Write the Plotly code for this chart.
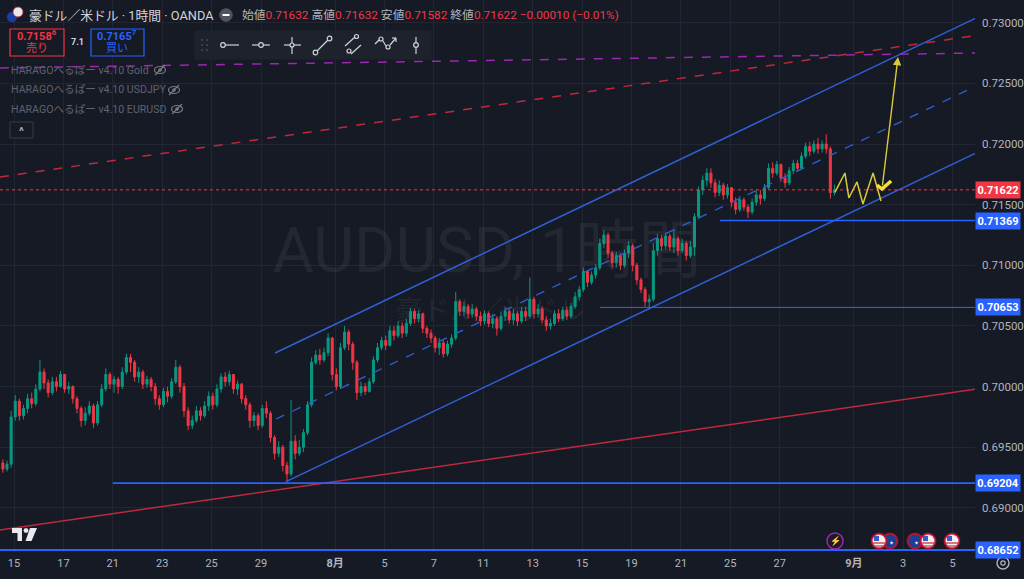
import plotly.graph_objects as go

# ---------------- data ----------------
# 4-hour bars (trading-day units on x; 0 = Jul 15)
BAR_START = -0.45
BAR_STEP = 1 / 6
first_open = 0.6937
close = [
0.6932,0.6936,0.6975,0.6988,0.6976,0.6982,0.6990,0.6986,0.6998,0.7012,
0.7003,0.6995,0.7004,0.7000,0.7010,0.6998,0.7000,0.6990,0.6982,0.6972,
0.6978,0.6984,0.6970,0.6985,0.6998,0.7010,0.7002,0.7006,0.7000,0.7012,
0.7024,0.7020,0.7008,0.7012,0.7002,0.7006,0.7000,0.6990,0.6985,0.6996,
0.6992,0.7004,0.7016,0.7000,0.6980,0.6968,0.6972,0.6980,0.6976,0.6984,
0.6992,0.6985,0.6998,0.7008,0.7004,0.7010,0.6998,0.7002,0.6990,0.6985,
0.6972,0.6976,0.6968,0.6982,0.6978,0.6958,0.6945,0.6950,0.6935,0.6928,
0.6955,0.6945,0.6950,0.6962,0.6985,0.7020,0.7026,0.7022,0.7028,0.7040,
0.7010,0.7000,0.7032,0.7045,0.7035,0.7020,0.6995,0.7000,0.6996,0.7004,
0.7022,0.7032,0.7038,0.7034,0.7046,0.7042,0.7050,0.7044,0.7052,0.7062,
0.7056,0.7060,0.7048,0.7044,0.7040,0.7032,0.7036,0.7027,0.7035,0.7040,
0.7070,0.7062,0.7066,0.7060,0.7064,0.7058,0.7054,0.7060,0.7052,0.7056,
0.7048,0.7058,0.7062,0.7055,0.7060,0.7054,0.7062,0.7058,0.7072,0.7060,
0.7064,0.7055,0.7050,0.7052,0.7060,0.7056,0.7063,0.7058,0.7066,0.7074,
0.7080,0.7095,0.7086,0.7092,0.7098,0.7118,0.7125,0.7110,0.7102,0.7108,
0.7100,0.7110,0.7116,0.7100,0.7088,0.7080,0.7070,0.7072,0.7112,0.7122,
0.7116,0.7124,0.7115,0.7122,0.7112,0.7118,0.7108,0.7115,0.7140,0.7162,
0.7170,0.7176,0.7168,0.7160,0.7166,0.7158,0.7164,0.7152,0.7146,0.7154,
0.7148,0.7144,0.7152,0.7158,0.7155,0.7164,0.7180,0.7176,0.7183,0.7172,
0.7168,0.7178,0.7184,0.7180,0.7190,0.7198,0.7194,0.7200,0.7196,0.7200,
0.7196,0.7160,0.71622]
high = [
0.6940,0.6939,0.6980,0.6993,0.6990,0.6985,0.6994,0.6995,0.7002,0.7022,
0.7015,0.7006,0.7008,0.7008,0.7013,0.7010,0.7004,0.7001,0.6992,0.6984,
0.6983,0.6988,0.6986,0.6988,0.7002,0.7015,0.7012,0.7009,0.7008,0.7016,
0.7027,0.7027,0.7022,0.7016,0.7014,0.7009,0.7008,0.7003,0.6993,0.6999,
0.7000,0.7007,0.7022,0.7018,0.7003,0.6983,0.6976,0.6984,0.6983,0.6988,
0.6996,0.6995,0.7002,0.7011,0.7012,0.7013,0.7010,0.7005,0.7003,0.6993,
0.6987,0.6979,0.6978,0.6985,0.6988,0.6980,0.6960,0.6955,0.6952,0.6938,
0.6989,0.6960,0.6956,0.6965,0.6988,0.7024,0.7030,0.7031,0.7032,0.7044,
0.7041,0.7015,0.7036,0.7050,0.7047,0.7037,0.7022,0.7004,0.7003,0.7007,
0.7025,0.7036,0.7041,0.7042,0.7050,0.7050,0.7054,0.7053,0.7056,0.7065,
0.7064,0.7063,0.7061,0.7050,0.7047,0.7042,0.7040,0.7038,0.7038,0.7043,
0.7078,0.7072,0.7070,0.7068,0.7068,0.7066,0.7062,0.7063,0.7062,0.7060,
0.7058,0.7062,0.7066,0.7064,0.7064,0.7062,0.7066,0.7066,0.7090,0.7074,
0.7068,0.7066,0.7058,0.7056,0.7063,0.7064,0.7066,0.7066,0.7069,0.7078,
0.7083,0.7098,0.7096,0.7095,0.7101,0.7122,0.7129,0.7127,0.7112,0.7111,
0.7110,0.7113,0.7120,0.7118,0.7102,0.7090,0.7082,0.7076,0.7118,0.7126,
0.7125,0.7127,0.7126,0.7130,0.7124,0.7122,0.7120,0.7120,0.7143,0.7165,
0.7174,0.7180,0.7180,0.7171,0.7170,0.7168,0.7167,0.7164,0.7156,0.7157,
0.7156,0.7150,0.7155,0.7162,0.7162,0.7167,0.7184,0.7185,0.7186,0.7184,
0.7176,0.7181,0.7187,0.7187,0.7193,0.7201,0.7202,0.7203,0.7205,0.7203,
0.7208,0.7198,0.71665]
low = [
0.6929,0.6930,0.6933,0.6972,0.6972,0.6973,0.6978,0.6982,0.6984,0.6996,
0.6998,0.6991,0.6993,0.6996,0.6999,0.6995,0.6994,0.6986,0.6978,0.6967,
0.6968,0.6976,0.6966,0.6968,0.6983,0.6996,0.6998,0.6995,0.6994,0.6998,
0.7010,0.7012,0.7004,0.7003,0.6998,0.6999,0.6996,0.6985,0.6981,0.6983,
0.6987,0.6990,0.7002,0.6995,0.6975,0.6964,0.6965,0.6970,0.6972,0.6974,
0.6980,0.6981,0.6983,0.6995,0.7000,0.7001,0.6994,0.6993,0.6986,0.6981,
0.6966,0.6967,0.6964,0.6966,0.6974,0.6954,0.6940,0.6942,0.6930,0.6921,
0.6926,0.6940,0.6943,0.6946,0.6960,0.6983,0.7018,0.7018,0.7020,0.7025,
0.7005,0.6997,0.6998,0.7030,0.7030,0.7014,0.6989,0.6992,0.6993,0.6995,
0.7002,0.7020,0.7030,0.7030,0.7033,0.7038,0.7040,0.7040,0.7041,0.7050,
0.7052,0.7053,0.7044,0.7040,0.7036,0.7028,0.7026,0.7024,0.7025,0.7032,
0.7038,0.7058,0.7058,0.7056,0.7057,0.7054,0.7050,0.7051,0.7049,0.7048,
0.7042,0.7046,0.7054,0.7052,0.7051,0.7050,0.7052,0.7054,0.7056,0.7056,
0.7057,0.7052,0.7046,0.7047,0.7050,0.7053,0.7054,0.7055,0.7056,0.7064,
0.7071,0.7078,0.7082,0.7084,0.7089,0.7096,0.7114,0.7106,0.7098,0.7098,
0.7096,0.7098,0.7106,0.7095,0.7084,0.7077,0.7066,0.7064,0.7070,0.7108,
0.7112,0.7113,0.7112,0.7110,0.7108,0.7110,0.7104,0.7106,0.7108,0.7138,
0.7158,0.7165,0.7164,0.7156,0.7157,0.7154,0.7155,0.7148,0.7142,0.7144,
0.7145,0.7139,0.7142,0.7149,0.7150,0.7153,0.7163,0.7172,0.7174,0.7169,
0.7164,0.7166,0.7175,0.7177,0.7179,0.7188,0.7190,0.7192,0.7192,0.7193,
0.7192,0.7155,0.71575]

# date axis (trading-day index -> label)
tick_days = [0, 2, 4, 6, 8, 10, 13, 15, 17, 19, 21, 23, 25, 27, 29, 31, 34, 36, 38]
tick_text = ["15", "17", "21", "23", "25", "29", "<b>8月</b>", "5", "7", "11", "13", "15",
             "19", "21", "25", "27", "<b>9月</b>", "3", "5"]
price_ticks = [0.690, 0.695, 0.700, 0.705, 0.710, 0.715, 0.720, 0.725, 0.730]

# drawings (x in trading days, y price)
upper_channel = ([10.57, 38.95], [0.70277, 0.73039])
mid_channel = ([10.61, 38.95], [0.69733, 0.72478])
lower_channel = ([11.01, 38.95], [0.69216, 0.71926])
red_trend = ([-0.57, 38.95], [0.68818, 0.69980])
red_dash_trend = ([-0.57, 38.80], [0.71728, 0.72890])
purple_dash = ([-0.57, 38.95], [0.72627, 0.72750])
h_levels = [(28.58, 0.71369, 1.6), (23.72, 0.70653, 1.0), (4.0, 0.69204, 1.6), (-0.57, 0.68652, 2.0)]
last_price = 0.71622
zig_x = [33.24, 33.64, 33.80, 34.13, 34.37, 34.78, 35.10]
zig_y = [0.71604, 0.71761, 0.71555, 0.71687, 0.71505, 0.71761, 0.71530]
arrow_from = (35.13, 0.71610)
arrow_to = (35.79, 0.72717)
check_x = [34.94, 35.14, 35.51]
check_y = [0.71662, 0.71629, 0.71695]

# ---------------- style / layout ----------------
BG = "#161a25"
GRID = "#222633"
UP = "#089981"
DN = "#f23645"
BLUE = "#2962ff"
CHAN = "#3060d8"
FONT = "Roboto, Noto Sans CJK JP, sans-serif"
W, H = 1024, 579
MR, MB = 49, 27
PW, PH = W - MR, H - MB
X_RANGE = [-0.567, 38.907]
Y_RANGE = [0.686364, 0.731871]


def px(x):
    return x / PW


def py(y):
    return (PH - y) / PH


opens = [first_open] + close[:-1]
hi = [max(h, o, c) for h, o, c in zip(high, opens, close)]
lo = [min(l, o, c) for l, o, c in zip(low, opens, close)]
bar_x = [BAR_START + i * BAR_STEP for i in range(len(close))]

fig = go.Figure()

# watermark
fig.add_trace(go.Scatter(x=[19.15], y=[0.71078], mode="text", text=["AUDUSD, 1時間"],
                         textfont=dict(size=63, color="rgba(120,123,134,0.14)", family=FONT),
                         hoverinfo="skip"))
fig.add_trace(go.Scatter(x=[19.27], y=[0.70608], mode="text", text=["豪ドル／米ドル"],
                         textfont=dict(size=27, color="rgba(120,123,134,0.14)", family=FONT),
                         hoverinfo="skip"))

fig.add_trace(go.Candlestick(
    x=bar_x, open=opens, high=hi, low=lo, close=close,
    increasing=dict(line=dict(color=UP, width=1), fillcolor=UP),
    decreasing=dict(line=dict(color=DN, width=1), fillcolor=DN),
    whiskerwidth=0, hoverinfo="skip"))


def line(xy, color, width=1.5, dash="solid"):
    fig.add_trace(go.Scatter(x=xy[0], y=xy[1], mode="lines",
                             line=dict(color=color, width=width, dash=dash), hoverinfo="skip"))


line(red_trend, "#c0283c", 1.5)
line(red_dash_trend, "#c0283c", 1.5, "dash")
line(purple_dash, "#9c27b0", 1.5, "dash")
line(upper_channel, CHAN, 1.5)
line(lower_channel, CHAN, 1.5)
line(mid_channel, CHAN, 1.3, "dash")
for x0, lvl, w in h_levels:
    line(([x0, X_RANGE[1]], [lvl, lvl]), BLUE, w)
line((X_RANGE, [last_price, last_price]), DN, 1, "dot")
line((zig_x, zig_y), "#d9c83a", 1.5)
line((check_x, check_y), "#f5e03a", 3.5)

shapes = []
ann = []

# yellow arrow
ann.append(dict(x=arrow_to[0], y=arrow_to[1], ax=arrow_from[0], ay=arrow_from[1],
                xref="x", yref="y", axref="x", ayref="y", showarrow=True, text=" ",
                arrowhead=2, arrowsize=1.2, arrowwidth=1.4, arrowcolor="#d9c83a",
                font=dict(size=8)))

# right-axis badges
badges = [(last_price, "0.71622", DN)] + [(lvl, f"{lvl:.5f}", BLUE) for _, lvl, _ in h_levels]
for yv, txt, col in badges:
    ann.append(dict(x=1.0, y=yv, xref="paper", yref="y", xanchor="left", yanchor="middle",
                    text=f"<b>{txt}</b>", showarrow=False, bgcolor=col, width=42, height=14,
                    borderpad=1, font=dict(color="#ffffff", size=11, family=FONT)))


def text(x, y, t, size=12, color="#d1d4dc", anchor="left"):
    ann.append(dict(x=px(x), y=py(y), xref="paper", yref="paper", xanchor=anchor,
                    yanchor="middle", text=t, showarrow=False,
                    font=dict(size=size, color=color, family=FONT)))


def circ(cx, cy, r, fill="rgba(0,0,0,0)", lc="#d1d4dc", lw=1.2):
    shapes.append(dict(type="circle", xref="paper", yref="paper",
                       x0=px(cx - r), x1=px(cx + r), y0=py(cy + r), y1=py(cy - r),
                       fillcolor=fill, line=dict(color=lc, width=lw)))


def seg(x0, y0, x1, y1, lc="#d1d4dc", lw=1.2):
    shapes.append(dict(type="line", xref="paper", yref="paper",
                       x0=px(x0), y0=py(y0), x1=px(x1), y1=py(y1), line=dict(color=lc, width=lw)))


def rect(x0, y0, x1, y1, fill, lc, lw=1):
    shapes.append(dict(type="rect", xref="paper", yref="paper",
                       x0=px(x0), y0=py(y1), x1=px(x1), y1=py(y0), fillcolor=fill,
                       line=dict(color=lc, width=lw)))


def path(pts, fill, lc="rgba(0,0,0,0)"):
    d = "M " + " L ".join(f"{px(a):.5f},{py(b):.5f}" for a, b in pts) + " Z"
    shapes.append(dict(type="path", xref="paper", yref="paper", path=d,
                       fillcolor=fill, line=dict(color=lc, width=0)))


# header
circ(12, 17, 5, "#1b3fa0", "#1b3fa0", 0.5)
circ(18, 12, 5, "#e8e8ee", "#c8283c", 0.8)
text(27, 15, "豪ドル／米ドル · 1時間 · OANDA", 12.8)
circ(226, 15, 6.5, "#50535e", "#50535e", 0.5)
seg(222.5, 15, 229.5, 15, "#ffffff", 2)
R = "#f23645"
ohlc = (f"始値<span style='color:{R}'>0.71632</span> 高値<span style='color:{R}'>0.71632</span> "
        f"安値<span style='color:{R}'>0.71582</span> 終値<span style='color:{R}'>0.71622</span> "
        f"<span style='color:{R}'>−0.00010 (−0.01%)</span>")
text(240, 15, ohlc, 11.8, "#b2b5be")

# sell / buy boxes
rect(10, 29, 64, 56, BG, DN, 1.2)
text(37, 36, "<b>0.7158<sup>6</sup></b>", 11, DN, "center")
text(37, 48, "売り", 11, DN, "center")
text(77, 42, "<b>7.1</b>", 9, "#d1d4dc", "center")
rect(91, 29, 144, 56, BG, BLUE, 1.2)
text(117, 36, "<b>0.7165<sup>7</sup></b>", 11, BLUE, "center")
text(117, 48, "買い", 11, BLUE, "center")

# drawing toolbar
rect(195, 31, 431, 59, "#1e222d", "#1e222d", 1)
for gx in (202, 207):
    for gy in (40, 45, 50):
        circ(gx, gy, 0.8, "#50535e", "#50535e", 0.3)
circ(223, 45, 2.3)
seg(225.5, 45, 239, 45)
seg(252, 45, 270, 45)
circ(261, 45, 2.3, "#1e222d")
seg(284, 45, 301, 45)
seg(292, 37, 292, 54)
circ(292, 45, 2, "#1e222d")
seg(317, 51, 328, 40)
circ(315.5, 52.5, 2.3)
circ(329.5, 38.5, 2.3)
seg(345, 46, 355, 37)
circ(356.5, 36.5, 2)
seg(351, 54, 361, 45)
circ(349, 51, 2)
seg(375, 44, 379, 40)
circ(381, 39, 2)
seg(383, 41, 386, 46)
circ(388, 47, 2)
seg(390, 45, 396, 38)
seg(392, 38, 396, 38)
seg(396, 38, 396, 42)
seg(416, 37, 416, 42.5)
seg(416, 47.5, 416, 54)
circ(416, 45, 2.3)

# indicator legend
for yy, nm, ex in [(70, "Gold", 160), (90, "USDJPY", 174), (109, "EURUSD", 177)]:
    text(9, yy, f"HARAGOへるぱー v4.10 {nm}", 10.6, "#5f626d")
    shapes.append(dict(type="circle", xref="paper", yref="paper", x0=px(ex - 5.5), x1=px(ex + 5.5),
                       y0=py(yy + 3.5), y1=py(yy - 3.5), line=dict(color="#787b86", width=1.2)))
    circ(ex, yy, 1.5, "#787b86", "#787b86", 0.5)
    seg(ex - 5, yy + 5, ex + 5, yy - 5, "#787b86", 1.2)
rect(10, 122, 33, 138, BG, "#363a45", 1)
text(21.5, 131, "<b>^</b>", 11, "#b2b5be", "center")

# TradingView logo
path([(12, 528), (22, 528), (22, 541), (17.5, 541), (17.5, 533), (12, 533)], "#e9e9ee")
circ(26, 530.5, 2.3, "#e9e9ee", "#e9e9ee", 0.3)
path([(30, 528), (37, 528), (31.5, 541), (25.5, 541)], "#e9e9ee")

# event icons on time scale
circ(835, 541, 8, "#1e1a2a", "#9c27b0", 1.5)
text(835, 541, "<b>⚡</b>", 9, "#b040c8", "center")
for cx, kind in [(890, "au"), (879, "us"), (915, "au"), (928, "us"), (952, "us")]:
    circ(cx, 541, 8, "#c8102e", "#c8102e", 0.5)
    if kind == "au":
        circ(cx, 541, 6.3, "#1c3f94", "#1c3f94", 0.3)
        text(cx + 1.5, 542, "✦", 6, "#ffffff", "center")
    else:
        circ(cx, 541, 6.3, "#eef0f4", "#eef0f4", 0.3)
        seg(cx - 6, 543, cx + 6, 543, "#d03040", 1.3)
        seg(cx - 5, 546, cx + 5, 546, "#d03040", 1.2)
        shapes.append(dict(type="rect", xref="paper", yref="paper", x0=px(cx - 5), x1=px(cx),
                           y0=py(541), y1=py(536), fillcolor="#3a5cc8", line=dict(width=0)))

# settings gear
circ(1003, 563, 6, "rgba(0,0,0,0)", "#b2b5be", 1.4)
circ(1003, 563, 2.2, "rgba(0,0,0,0)", "#b2b5be", 1.2)

fig.update_layout(
    width=W, height=H, margin=dict(l=0, r=MR, t=0, b=MB),
    paper_bgcolor=BG, plot_bgcolor=BG, showlegend=False, hovermode=False,
    font=dict(family=FONT, color="#b2b5be"),
    shapes=shapes, annotations=ann,
    xaxis=dict(range=X_RANGE, tickmode="array", tickvals=tick_days, ticktext=tick_text,
               showgrid=True, gridcolor=GRID, gridwidth=1, zeroline=False, showline=False,
               ticks="", ticklabelstandoff=3, tickfont=dict(size=11, color="#b2b5be"),
               rangeslider=dict(visible=False), fixedrange=True),
    yaxis=dict(range=Y_RANGE, side="right", tickmode="array", tickvals=price_ticks,
               ticktext=[f"{v:.5f}" for v in price_ticks], showgrid=True, gridcolor=GRID,
               zeroline=False, showline=False, ticks="", ticklabelstandoff=6,
               tickfont=dict(size=11.5, color="#b2b5be"), fixedrange=True),
)

fig.write_html("out.html", config=dict(displayModeBar=False),
               post_script="document.body.style.margin='0px';document.body.style.overflow='hidden';")
